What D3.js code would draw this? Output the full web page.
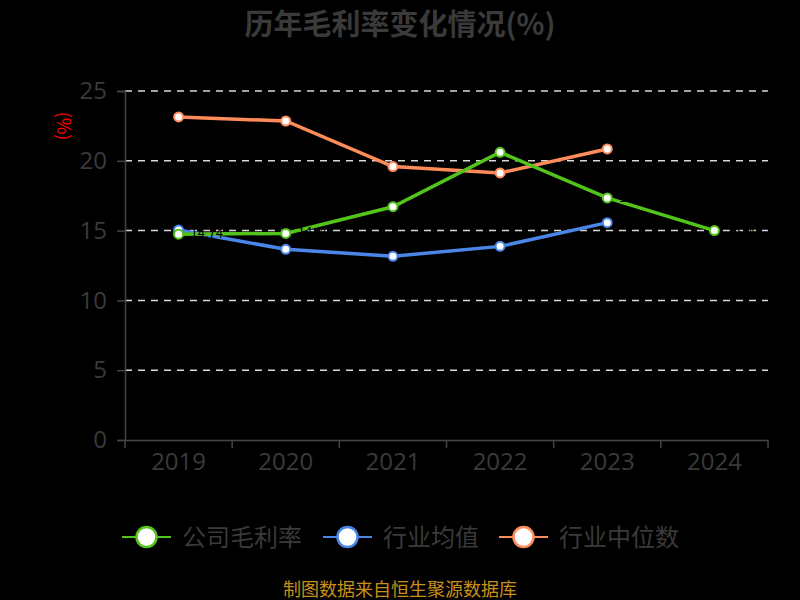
<!DOCTYPE html>
<html><head><meta charset="utf-8">
<script src="https://cdn.jsdelivr.net/npm/d3@7"></script>
<style>html,body{margin:0;padding:0;background:#000;}svg{display:block;}</style>
</head><body>
<svg id="c" width="800" height="600"></svg>
<script>
const years = ["2019","2020","2021","2022","2023","2024"];
const companyGross = [14.74, 14.80, 16.71, 20.61, 17.34, 15.00];
const industryMean = [15.04, 13.66, 13.16, 13.87, 15.57, null];
const industryMedian = [23.14, 22.85, 19.59, 19.13, 20.85, null];
const yTicks = [0, 5, 10, 15, 20, 25];
const seriesNames = ["公司毛利率", "行业均值", "行业中位数"];
const seriesColors = ["#52c41a", "#4a86e8", "#ff8c5a"];

const font = "'Noto Sans CJK SC','Noto Sans',sans-serif";
const numFont = "'Open Sans','Noto Sans',sans-serif";
const svg = d3.select("#c").style("font-family", font);
svg.append("rect").attr("width",800).attr("height",600).attr("fill","#000");

const m = {l:125, r:768, t:91, b:440};
const x = d3.scaleBand().domain(years).range([m.l, m.r]);
const y = d3.scaleLinear().domain([0,25]).range([m.b, m.t]);

// title
svg.append("text").attr("x",400).attr("y",35).attr("text-anchor","middle")
  .attr("font-size",29).attr("font-weight","bold").attr("fill","#3a3a3a")
  .text("历年毛利率变化情况(%)");

// grid
svg.append("g").selectAll("line").data(yTicks.filter(d=>d>0)).join("line")
  .attr("x1",m.l).attr("x2",m.r).attr("y1",d=>y(d)).attr("y2",d=>y(d))
  .attr("stroke","#d9d9d9").attr("stroke-width",1.5).attr("stroke-dasharray","7,6");

// y axis
const ya = svg.append("g").attr("transform",`translate(${m.l},0)`)
  .call(d3.axisLeft(y).tickValues(yTicks).tickSize(8).tickPadding(10));
ya.select(".domain").attr("stroke","#444").attr("stroke-width",1.5);
ya.selectAll(".tick line").attr("stroke","#444").attr("stroke-width",1.5);
ya.selectAll(".tick text").attr("fill","#3a3a3a").attr("font-size",24).attr("font-family",numFont);

// x axis
const xa = svg.append("g").attr("transform",`translate(0,${m.b})`)
  .call(d3.axisBottom(x).tickSize(0).tickPadding(13));
xa.select(".domain").attr("stroke","#444").attr("stroke-width",1.5);
xa.selectAll(".tick text").attr("fill","#3a3a3a").attr("font-size",24).attr("font-family",numFont);
const bounds = years.map(d=>x(d)).concat([x(years[years.length-1])+x.bandwidth()]);
xa.selectAll(".bt").data(bounds).join("line").attr("class","bt")
  .attr("x1",d=>d).attr("x2",d=>d).attr("y1",0).attr("y2",8)
  .attr("stroke","#444").attr("stroke-width",1.5);

// y label
svg.append("text").attr("transform","translate(57,126) rotate(90)")
  .attr("text-anchor","middle").attr("font-size",18).attr("fill","#ff0000").text("(%)");

const cx = d => x(d) + x.bandwidth()/2;
const allSeries = [companyGross, industryMean, industryMedian];
const line = d3.line().defined(d=>d.v!=null).x(d=>cx(d.k)).y(d=>y(d.v));

[2,1,0].forEach(i=>{
  const data = years.map((k,j)=>({k, v: allSeries[i][j]}));
  const g = svg.append("g");
  g.append("path").datum(data).attr("d",line).attr("fill","none")
    .attr("stroke",seriesColors[i]).attr("stroke-width",3.5);
  g.selectAll("circle").data(data.filter(d=>d.v!=null)).join("circle")
    .attr("cx",d=>cx(d.k)).attr("cy",d=>y(d.v)).attr("r",4.5)
    .attr("fill","#fff").attr("stroke",seriesColors[i]).attr("stroke-width",2);
  if(i===0){
    g.selectAll("text").data(data.filter(d=>d.v!=null)).join("text")
      .attr("x",d=>cx(d.k)+12).attr("y",d=>y(d.v)+4).attr("font-size",13)
      .attr("fill","#000").text(d=>d.v.toFixed(2));
  }
});

// legend
const legX = [122, 323, 499];
seriesNames.forEach((n,i)=>{
  const g = svg.append("g").attr("transform",`translate(${legX[i]},537)`);
  g.append("line").attr("x1",0).attr("x2",49).attr("stroke",seriesColors[i]).attr("stroke-width",2);
  g.append("circle").attr("cx",24.5).attr("r",10).attr("fill","#fff")
    .attr("stroke",seriesColors[i]).attr("stroke-width",2.5);
  g.append("text").attr("x",60).attr("y",8.5).attr("font-size",24).attr("fill","#3a3a3a").text(n);
});

// source
svg.append("text").attr("x",400).attr("y",596).attr("text-anchor","middle")
  .attr("font-size",18).attr("fill","#c8901a").text("制图数据来自恒生聚源数据库");
</script>
</body></html>
